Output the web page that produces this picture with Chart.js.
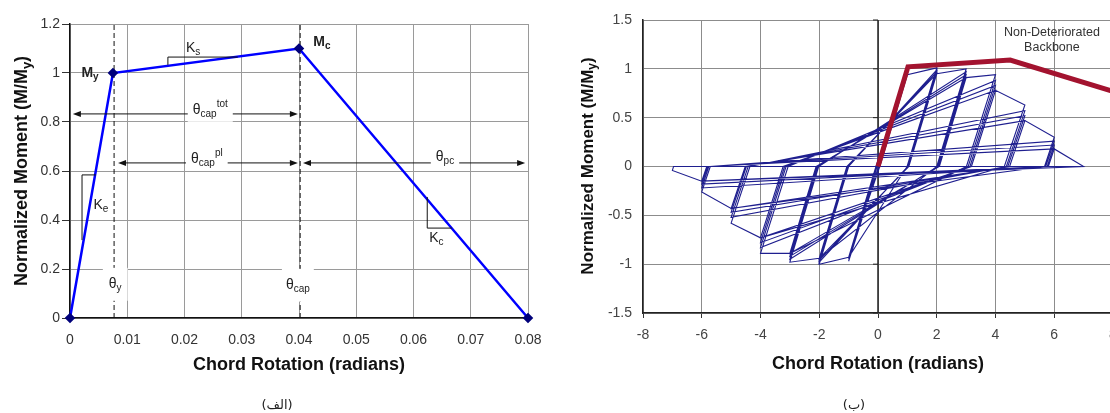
<!DOCTYPE html>
<html>
<head>
<meta charset="utf-8">
<script src="https://cdn.jsdelivr.net/npm/chart.js@4.4.0/dist/chart.umd.min.js"></script>
<style>
html, body { margin: 0; padding: 0; background: #fff; overflow: hidden; width: 1110px; height: 413px; }
#left { position: absolute; left: 0; top: 0; }
#right { position: absolute; left: 560px; top: 0; }
.cap { position: absolute; font-family: "DejaVu Sans", sans-serif; font-size: 13px; color: #222; transform: translate(-50%, -50%); white-space: nowrap; }
</style>
</head>
<body>
<canvas id="left" width="560" height="413"></canvas>
<canvas id="right" width="580" height="413"></canvas>
<div class="cap" dir="rtl" style="left:277px; top:404px;">(الف)</div>
<div class="cap" dir="rtl" style="left:854px; top:404px;">(ب)</div>
<script>
// --- (الف) backbone curve ---
const leftRotation = [0, 0.0075, 0.04, 0.08];
const leftMoment = [0, 1, 1.1, 0];
const thetaY = 0.0077;
const thetaCap = 0.0402;
const leftXTicks = [0, 0.01, 0.02, 0.03, 0.04, 0.05, 0.06, 0.07, 0.08];
const leftYTicks = [0, 0.2, 0.4, 0.6, 0.8, 1, 1.2];

// --- (ب) hysteresis response (x = rotation, y = M/My) ---
const hystRot = [
  0,
  1, 0.02, -1, -0.03, 1, 0.04, -1, -0.05, 1, 0.05, -1, -0.06, 1, 0.06, -1, -0.07,
  1, 2, 0.99, -1, -2, -1.0, 2, 1.01, -2, -1.02, 2, 1.03, -2, -1.04, 2, 1.05, -2, -1.06,
  2, 3, 2.0, -2, -3, -2.02, 3, 2.03, -3, -2.05, 3, 2.06, -3, -2.08, 3, 2.09, -3, -2.11,
  3, 4, 3.01, -3, -4, -3.06, 4, 3.07, -4, -3.13, 4, 3.13, -4, -3.18, 4, 3.18, -4, -3.23,
  4, 5, 4.3, -4, -5, -4.36, 5, 4.37, -5, -4.42, 5, 4.42, -5, -4.48, 5, 4.48, -5, -4.52,
  5, 6, 5.67, -5, -6, -5.71, 6, 5.71, -6, -5.76, 6, 5.76, -6, -5.8, 6, 5.8, -6, -5.83,
  6, 7, -6, -7, -6.96, 6.9
];
const hystMom = [
  0,
  0.98, 0, -0.97, 0, 0.96, 0, -0.95, 0, 0.95, 0, -0.94, 0, 0.94, 0, -0.93, 0,
  0.94, 1.01, 0, -0.93, -1.0, 0, 0.99, 0, -0.98, 0, 0.97, 0, -0.96, 0, 0.95, 0, -0.94, 0,
  0.95, 1.0, 0, -0.94, -0.98, 0, 0.97, 0, -0.95, 0, 0.94, 0, -0.92, 0, 0.91, 0, -0.89, 0,
  0.91, 0.94, 0, -0.89, -0.89, 0, 0.88, 0, -0.83, 0, 0.83, 0, -0.78, 0, 0.78, 0, -0.73, 0,
  0.78, 0.63, 0, -0.73, -0.58, 0, 0.57, 0, -0.52, 0, 0.52, 0, -0.47, 0, 0.47, 0, -0.43, 0,
  0.47, 0.30, 0, -0.43, -0.26, 0, 0.26, 0, -0.22, 0, 0.22, 0, -0.18, 0, 0.18, 0, -0.15, 0,
  0.18, 0.0, -0.15, -0.04, 0, 0
];
const backboneRot = [0, 1.02, 4.5, 8];
const backboneMom = [0, 1.02, 1.09, 0.77];
const rightXTicks = [-8, -6, -4, -2, 0, 2, 4, 6, 8];
const rightYTicks = [-1.5, -1, -0.5, 0, 0.5, 1, 1.5];

const FAM = '"Liberation Sans", Arial, sans-serif';

function toPts(xs, ys) {
  return xs.map((x, i) => ({ x: x, y: ys[i] }));
}

// text with sub/superscripts, centred on (cx, cy)
function rich(ctx, parts, cx, cy, size, weight, color, bg) {
  const fnt = m => weight + ' ' + (m ? Math.round(size * 0.7) : size) + 'px ' + FAM;
  let w = 0;
  const widths = parts.map(p => {
    ctx.font = fnt(p[1]);
    const ww = ctx.measureText(p[0]).width;
    w += ww;
    return ww;
  });
  let x0 = cx - w / 2;
  if (bg) {
    ctx.fillStyle = '#fff';
    ctx.fillRect(x0 - bg[0], cy - size * 0.65 - bg[1], w + 2 * bg[0], size * 1.35 + 2 * bg[1]);
  }
  ctx.fillStyle = color;
  ctx.textBaseline = 'middle';
  ctx.textAlign = 'left';
  parts.forEach((p, i) => {
    ctx.font = fnt(p[1]);
    const dy = p[1] === 'sub' ? size * 0.3 : (p[1] === 'sup' ? -size * 0.38 : 0);
    ctx.fillText(p[0], x0, cy + dy);
    x0 += widths[i];
  });
}

function yTitle(ctx, cx, cy, size) {
  ctx.save();
  ctx.translate(cx, cy);
  ctx.rotate(-Math.PI / 2);
  rich(ctx, [['Normalized Moment (M/M', ''], ['y', 'sub'], [')', '']], 0, 0, size, 'bold', '#111');
  ctx.restore();
}

function seg(ctx, x1, y1, x2, y2) {
  ctx.beginPath();
  ctx.moveTo(x1, y1);
  ctx.lineTo(x2, y2);
  ctx.stroke();
}

function arrow(ctx, x1, x2, y) {
  seg(ctx, x1 + 4, y, x2 - 4, y);
  [[x1, 1], [x2, -1]].forEach(([x, d]) => {
    ctx.beginPath();
    ctx.moveTo(x, y);
    ctx.lineTo(x + d * 8, y - 3);
    ctx.lineTo(x + d * 8, y + 3);
    ctx.closePath();
    ctx.fill();
  });
}

const leftNotes = {
  id: 'leftNotes',
  afterDatasetsDraw(chart) {
    const ctx = chart.ctx;
    const sx = chart.scales.x, sy = chart.scales.y;
    const px = v => sx.getPixelForValue(v), py = v => sy.getPixelForValue(v);
    ctx.save();
    ctx.strokeStyle = '#111';
    ctx.fillStyle = '#111';
    ctx.lineWidth = 1;
    // slope triangles
    seg(ctx, px(0.0171), py(1.033), px(0.0171), py(1.065));
    seg(ctx, px(0.0171), py(1.065), px(0.0293), py(1.065));
    seg(ctx, px(0.0021), py(0.318), px(0.0021), py(0.584));
    seg(ctx, px(0.0021), py(0.584), px(0.0045), py(0.584));
    seg(ctx, px(0.0624), py(0.494), px(0.0624), py(0.367));
    seg(ctx, px(0.0624), py(0.367), px(0.0667), py(0.367));
    // dimension arrows
    arrow(ctx, px(0.0005), px(0.0398), py(0.833));
    arrow(ctx, px(0.0084), px(0.0398), py(0.633));
    arrow(ctx, px(0.0407), px(0.0795), py(0.633));
    const c = '#222';
    rich(ctx, [['θ', ''], ['cap', 'sub'], ['tot', 'sup']], px(0.0245), py(0.849), 14, 'normal', c, [5, 2]);
    rich(ctx, [['θ', ''], ['cap', 'sub'], ['pl', 'sup']], px(0.0239), py(0.649), 14, 'normal', c, [5, 2]);
    rich(ctx, [['θ', ''], ['pc', 'sub']], px(0.0655), py(0.657), 14, 'normal', c, [5, 2]);
    rich(ctx, [['θ', ''], ['y', 'sub']], px(0.0079), py(0.139), 14, 'normal', c, [6, 7]);
    rich(ctx, [['θ', ''], ['cap', 'sub']], px(0.0398), py(0.135), 14, 'normal', c, [4, 7]);
    rich(ctx, [['M', ''], ['y', 'sub']], px(0.0035), py(1.0), 14, 'bold', c);
    rich(ctx, [['M', ''], ['c', 'sub']], px(0.044), py(1.127), 14, 'bold', c);
    rich(ctx, [['K', ''], ['s', 'sub']], px(0.0215), py(1.102), 14, 'normal', c);
    rich(ctx, [['K', ''], ['e', 'sub']], px(0.0054), py(0.461), 14, 'normal', c);
    rich(ctx, [['K', ''], ['c', 'sub']], px(0.064), py(0.327), 14, 'normal', c);
    yTitle(ctx, 22, 171, 18);
    ctx.restore();
  }
};

const rightNotes = {
  id: 'rightNotes',
  beforeDatasetsDraw(chart) {
    const ctx = chart.ctx;
    const sx = chart.scales.x, sy = chart.scales.y;
    const x0 = sx.getPixelForValue(0);
    ctx.save();
    ctx.strokeStyle = '#222';
    ctx.lineWidth = 1.5;
    seg(ctx, x0, chart.chartArea.top, x0, chart.chartArea.bottom);
    ctx.lineWidth = 1;
    rightYTicks.forEach(v => seg(ctx, x0 - 5, sy.getPixelForValue(v), x0, sy.getPixelForValue(v)));
    ctx.restore();
  },
  afterDatasetsDraw(chart) {
    const ctx = chart.ctx;
    const sx = chart.scales.x, sy = chart.scales.y;
    ctx.save();
    ctx.fillStyle = '#333';
    ctx.font = '12.5px ' + FAM;
    ctx.textAlign = 'center';
    ctx.textBaseline = 'middle';
    ctx.fillText('Non-Deteriorated', sx.getPixelForValue(5.92), sy.getPixelForValue(1.367));
    ctx.fillText('Backbone', sx.getPixelForValue(5.92), sy.getPixelForValue(1.22));
    yTitle(ctx, 28, 166, 17);
    ctx.restore();
  }
};

function tickFont() {
  return { family: FAM, size: 14 };
}

new Chart(document.getElementById('left'), {
  type: 'scatter',
  data: {
    datasets: [
      {
        data: toPts(leftRotation, leftMoment),
        showLine: true,
        borderColor: '#0000ff',
        borderWidth: 2.5,
        pointStyle: 'rectRot',
        pointRadius: 3.5,
        pointBackgroundColor: '#00007a',
        pointBorderColor: '#00007a',
        clip: false
      },
      {
        data: [{ x: thetaY, y: 0 }, { x: thetaY, y: 1.2 }],
        showLine: true, borderColor: '#111', borderWidth: 1, borderDash: [5, 3], pointRadius: 0
      },
      {
        data: [{ x: thetaCap, y: 0 }, { x: thetaCap, y: 1.2 }],
        showLine: true, borderColor: '#111', borderWidth: 1, borderDash: [5, 3], pointRadius: 0
      }
    ]
  },
  options: {
    responsive: false,
    animation: false,
    devicePixelRatio: 1,
    layout: { padding: { left: 0, top: 24, right: 32, bottom: 37 } },
    plugins: { legend: { display: false }, tooltip: { enabled: false } },
    scales: {
      x: {
        type: 'linear', min: 0, max: 0.08,
        afterBuildTicks: s => { s.ticks = leftXTicks.map(v => ({ value: v })); },
        afterFit: s => { s.height = 58; },
        grid: { color: '#9a9a9a', tickLength: 8, tickColor: 'rgba(0,0,0,0)' },
        border: { color: '#111', width: 1.5 },
        ticks: { font: tickFont(), color: '#333', padding: 6, callback: v => String(v) },
        title: { display: true, text: 'Chord Rotation (radians)', font: { family: FAM, size: 18, weight: 'bold' }, color: '#111', padding: 0 }
      },
      y: {
        type: 'linear', min: 0, max: 1.2,
        afterBuildTicks: s => { s.ticks = leftYTicks.map(v => ({ value: v })); },
        afterFit: s => { s.width = 70; },
        grid: { color: '#9a9a9a', tickLength: 8, tickColor: '#333' },
        border: { color: '#111', width: 1.5 },
        ticks: { font: tickFont(), color: '#333', padding: 2, callback: v => String(v) }
      }
    }
  },
  plugins: [leftNotes]
});

new Chart(document.getElementById('right'), {
  type: 'scatter',
  data: {
    datasets: [
      {
        data: toPts(backboneRot, backboneMom),
        showLine: true, borderColor: '#a3132f', borderWidth: 5, pointRadius: 0,
        borderJoinStyle: 'miter'
      },
      {
        data: toPts(hystRot, hystMom),
        showLine: true, borderColor: '#1f1f8f', borderWidth: 1.1, pointRadius: 0
      }
    ]
  },
  options: {
    responsive: false,
    animation: false,
    devicePixelRatio: 1,
    layout: { padding: { left: 0, top: 20, right: 27, bottom: 38 } },
    plugins: { legend: { display: false }, tooltip: { enabled: false } },
    scales: {
      x: {
        type: 'linear', min: -8, max: 8,
        afterBuildTicks: s => { s.ticks = rightXTicks.map(v => ({ value: v })); },
        afterFit: s => { s.height = 62; },
        grid: { color: '#8c8c8c', tickLength: 5, tickColor: '#333' },
        border: { color: '#222', width: 1.5 },
        ticks: { font: tickFont(), color: '#444', padding: 9, callback: v => String(v) },
        title: { display: true, text: 'Chord Rotation (radians)', font: { family: FAM, size: 18, weight: 'bold' }, color: '#111', padding: 0 }
      },
      y: {
        type: 'linear', min: -1.5, max: 1.5,
        afterBuildTicks: s => { s.ticks = rightYTicks.map(v => ({ value: v })); },
        afterFit: s => { s.width = 83; },
        grid: { color: '#8c8c8c', tickLength: 8, tickColor: 'rgba(0,0,0,0)' },
        border: { color: '#222', width: 1.5 },
        ticks: { font: tickFont(), color: '#444', padding: 3, callback: v => String(v) }
      }
    }
  },
  plugins: [rightNotes]
});
</script>
</body>
</html>
